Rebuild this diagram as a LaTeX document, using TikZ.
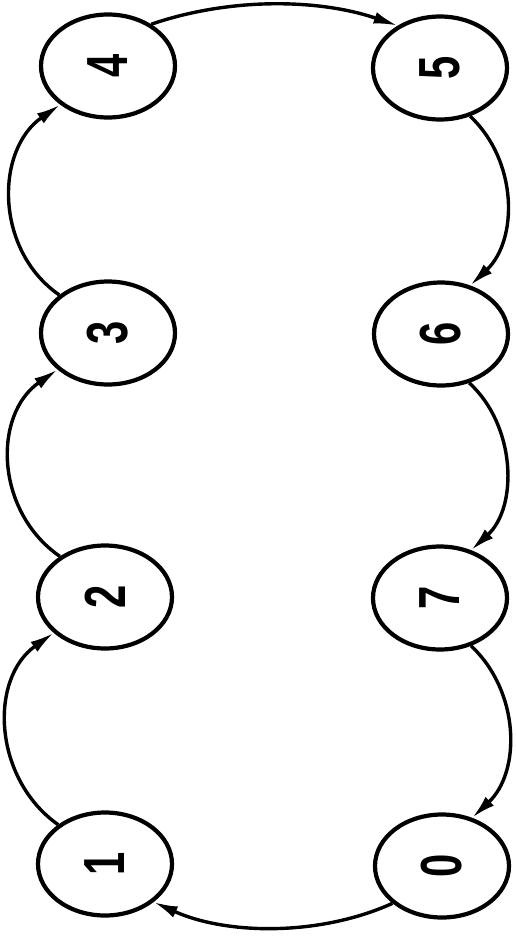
\documentclass[tikz,border=0pt]{standalone}
\usepackage{fontspec}
\usepackage{graphicx}
\setmainfont{Liberation Sans}
\usetikzlibrary{shapes.geometric,arrows.meta}
\newcommand{\dig}[1]{\rotatebox{90}{\scalebox{0.72}[1]{\fontsize{58}{58}\selectfont\bfseries #1}}}
\tikzset{
  state/.style={ellipse, draw, line width=4.2pt, minimum width=134pt, minimum height=103pt, inner sep=0pt},
  link/.style={line width=3.4pt, -{Latex[length=24pt,width=12pt]}}
}
\begin{document}
\begin{tikzpicture}[x=1pt,y=-1pt]
\useasboundingbox (0,0) rectangle (516,943);
\node[state] (n4) at (108,66) {\dig{4}};
\node[state] (n3) at (108,333) {\dig{3}};
\node[state] (n2) at (105,597) {\dig{2}};
\node[state] (n1) at (105,864) {\dig{1}};
\node[state] (n5) at (440,68) {\dig{5}};
\node[state] (n6) at (441,334) {\dig{6}};
\node[state] (n7) at (440,598) {\dig{7}};
\node[state] (n0) at (442,866) {\dig{0}};
\draw[link] (n4.44) .. controls +(79,-27) and +(-79,-27) .. (n5.135);
\draw[link] (n5.-58) .. controls +(48,45) and +(48,-45) .. (n6.59);
\draw[link] (n6.-60) .. controls +(47,43) and +(47,-43) .. (n7.57);
\draw[link] (n7.-57) .. controls +(49,46) and +(49,-46) .. (n0.58);
\draw[link] (n0.217) .. controls +(-73,33) and +(73,33) .. (n1.-38);
\draw[link] (n1.140) .. controls +(-65,-46) and +(-65,46) .. (n2.215);
\draw[link] (n2.138) .. controls +(-65,-45) and +(-65,45) .. (n3.216);
\draw[link] (n3.142) .. controls +(-65,-45) and +(-65,45) .. (n4.219);
\end{tikzpicture}
\end{document}
